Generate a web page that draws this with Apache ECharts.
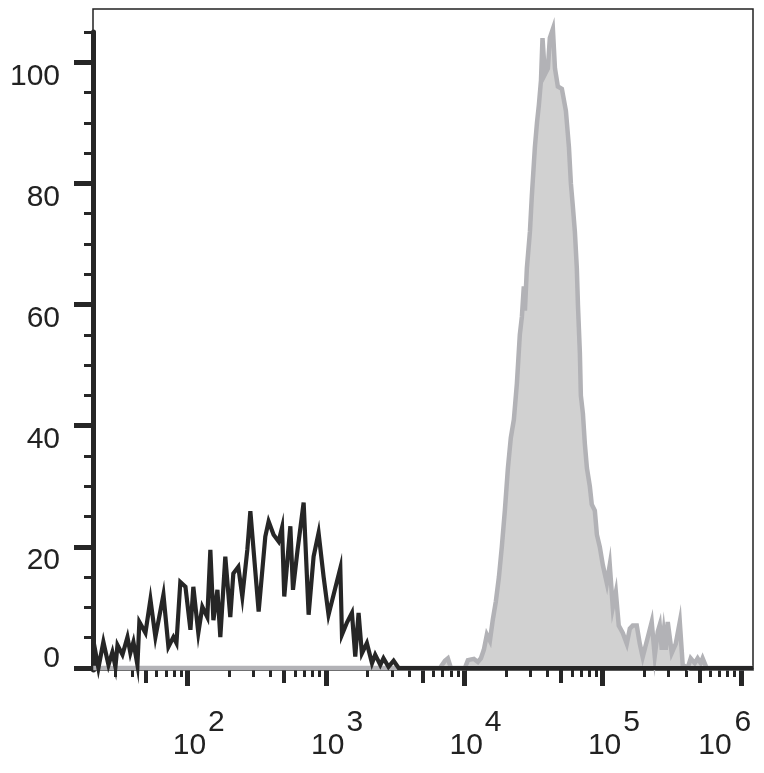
<!DOCTYPE html>
<html>
<head>
<meta charset="utf-8">
<script src="https://cdn.jsdelivr.net/npm/echarts@6/dist/echarts.min.js"></script>
<style>
html,body{margin:0;padding:0;background:#fff;}
#chart{width:764px;height:773px;}
</style>
</head>
<body>
<div id="chart"></div>
<script>
// ---- data (x positions as log10 of intensity, y = cell count) ----
const blackLog = [1.32,1.357,1.393,1.430,1.458,1.480,1.495,1.531,1.567,1.588,1.610,1.639,1.653,1.697,1.733,1.769,1.827,1.863,1.899,1.921,1.949,1.986,2.022,2.043,2.079,2.108,2.144,2.166,2.188,2.217,2.238,2.274,2.310,2.332,2.368,2.397,2.433,2.455,2.515,2.563,2.587,2.623,2.659,2.684,2.700,2.744,2.763,2.796,2.840,2.876,2.912,2.948,2.984,3.020,3.105,3.117,3.153,3.189,3.213,3.237,3.261,3.297,3.334,3.357,3.394,3.417,3.453,3.490,3.526,6.087];
const blackCount = [4.6,0,4.3,0.5,2.6,0.2,3.8,2.2,5.1,2.5,4.3,0.5,7.6,5.8,11.3,5.1,12.1,3.5,5.1,4.1,14.2,13.4,6.3,13.4,5.8,10.1,8.4,19.5,7.9,12.9,5.1,18.4,8.4,15.6,16.7,11.8,19.5,25.9,9.3,21.7,24.2,22.0,20.9,23.2,11.8,23.4,12.9,19.5,27.3,8.8,18.4,22.3,15.1,8.8,16.5,5.5,7.5,9.1,1.9,9.1,2.4,4.1,0.8,2.2,0.5,1.6,0.2,1.2,0,0];

const grayLog = [1.32,3.825,3.861,3.882,3.904,4.005,4.027,4.070,4.099,4.121,4.142,4.164,4.186,4.207,4.229,4.251,4.272,4.294,4.316,4.337,4.359,4.381,4.402,4.417,4.431,4.439,4.453,4.475,4.489,4.511,4.526,4.540,4.555,4.566,4.583,4.605,4.619,4.641,4.656,4.677,4.706,4.735,4.757,4.771,4.786,4.800,4.814,4.822,4.836,4.843,4.858,4.872,4.887,4.908,4.922,4.944,4.959,4.980,5.002,5.031,5.052,5.074,5.096,5.117,5.146,5.175,5.197,5.218,5.247,5.269,5.290,5.326,5.355,5.377,5.399,5.413,5.428,5.442,5.457,5.471,5.500,5.529,5.558,5.579,5.615,5.637,5.666,5.687,5.709,5.723,5.752,6.087];
const grayCount = [0,0,1.2,1.6,0,0,1.3,1.5,1.0,1.6,3,5.5,4.5,8,11,15,20,26,33,38,41,47,55,58,63,59,66,72,78,86,90,93,97,104,98,99,104,105.5,99,96,95.6,92,86,80,76,72,66,60,52,45,42,37,33,30,27,26,22,20,17,14,17,10,12.5,7,5.8,4,6.5,7,7,4,1.8,5,7.6,2,6,7.1,3,6,3,7.6,2.5,4,7.6,0.5,0,1.6,0.8,1.6,0.8,1.6,0,0];

// ---- axis ticks (intensity values, placed on a log10 axis) ----
const xMajorTicks = [100, 1000, 10000, 100000, 1000000];
const xMidTicks = [50, 500, 5000, 50000, 500000];
const xMinorTicks = [20,30,40,60,70,80,90,200,300,400,600,700,800,900,2000,3000,4000,6000,7000,8000,9000,20000,30000,40000,60000,70000,80000,90000,200000,300000,400000,600000,700000,800000,900000];
const yMajorTicks = [0, 20, 40, 60, 80, 100];
const yMinorTicks = [5,10,15,25,30,35,45,50,55,65,70,75,85,90,95,105];

const xMinLog = 1.318, xMaxLog = 6.087;
const yMin = -0.33, yMax = 105;

const toPairs = (ls, cs) => ls.map((l, i) => [l, cs[i]]);
const lg = (arr) => arr.map(v => Math.log10(v));

const FONT = 'Liberation Sans, Arial, sans-serif';
const TXT = '#222';
const INK = '#262626';
const fs = 30;

const chart = echarts.init(document.getElementById('chart'), null, {renderer: 'canvas'});

const baseX = {gridIndex: 0, type: 'value', min: xMinLog, max: xMaxLog, position: 'bottom',
  splitLine: {show: false}, axisLine: {show: false}, axisTick: {show: false}, axisLabel: {show: false}};
const txt = {fontSize: fs, fontFamily: FONT, color: TXT, lineHeight: 30};

const option = {
  animation: false,
  backgroundColor: '#fff',
  grid: [
    {left: 93, right: 11, top: 32, bottom: 103, show: false, outerBoundsMode: 'none', containLabel: false},
    {left: 93, right: 11, top: 9, bottom: 103, show: true, borderColor: '#222', borderWidth: 1.5,
     backgroundColor: 'transparent', outerBoundsMode: 'none', containLabel: false}
  ],
  xAxis: [
    // major ticks + "10" base of the labels
    Object.assign({}, baseX, {
      axisLine: {show: true, lineStyle: {color: INK, width: 1.2}},
      axisTick: {show: true, customValues: lg(xMajorTicks), length: 18, lineStyle: {color: INK, width: 5}},
      axisLabel: {
        show: true, customValues: lg(xMajorTicks), margin: 61, hideOverlap: false,
        formatter: function (v) { return Math.round(v) === 6 ? '{c|10}' : '{b|10}'; },
        rich: {
          b: Object.assign({}, txt, {padding: [0, 0, 0, 4]}),
          c: Object.assign({}, txt, {padding: [0, 52, 0, 0]})
        }
      }
    }),
    // exponents
    Object.assign({}, baseX, {
      axisLabel: {
        show: true, customValues: lg(xMajorTicks), margin: 38, align: 'center', hideOverlap: false,
        formatter: function (v) { const e = Math.round(v); return e === 6 ? '{f|' + e + '}' : '{e|' + e + '}'; },
        rich: {
          e: Object.assign({}, txt, {padding: [0, 0, 0, 58]}),
          f: Object.assign({}, txt, {padding: [0, 0, 0, 4]})
        }
      }
    }),
    Object.assign({}, baseX, {
      axisTick: {show: true, customValues: lg(xMidTicks), length: 13, lineStyle: {color: INK, width: 4}}
    }),
    Object.assign({}, baseX, {
      axisTick: {show: true, customValues: lg(xMinorTicks).filter(v => v >= xMinLog), length: 7, lineStyle: {color: INK, width: 3}}
    }),
    {gridIndex: 1, type: 'value', show: false, min: 0, max: 1}
  ],
  yAxis: [
    {
      gridIndex: 0, type: 'value', min: yMin, max: yMax, position: 'left',
      splitLine: {show: false},
      axisLine: {show: true, lineStyle: {color: INK, width: 5}},
      axisTick: {show: true, customValues: yMajorTicks, length: 19, lineStyle: {color: INK, width: 5}},
      axisLabel: {
        show: true, customValues: yMajorTicks, margin: 33, hideOverlap: false,
        formatter: function (v) { return v === 0 ? '{z|0}' : '{n|' + v + '}'; },
        rich: {
          z: Object.assign({}, txt, {padding: [0, 0, 18, 0]}),
          n: Object.assign({}, txt, {padding: [28, 0, 0, 0]})
        }
      }
    },
    {
      gridIndex: 0, type: 'value', min: yMin, max: yMax, position: 'left',
      splitLine: {show: false}, axisLine: {show: false},
      axisTick: {show: true, customValues: yMinorTicks, length: 9, lineStyle: {color: INK, width: 3}},
      axisLabel: {show: false}
    },
    {gridIndex: 1, type: 'value', show: false, min: 0, max: 1}
  ],
  series: [
    {
      name: 'stained', type: 'line', xAxisIndex: 0, yAxisIndex: 0,
      data: toPairs(grayLog, grayCount),
      showSymbol: false, symbol: 'none', clip: false, z: 2,
      lineStyle: {color: '#b2b2b6', width: 4.5, join: 'miter'},
      areaStyle: {color: '#d1d1d1', opacity: 1}
    },
    {
      name: 'control', type: 'line', xAxisIndex: 0, yAxisIndex: 0,
      data: toPairs(blackLog, blackCount),
      showSymbol: false, symbol: 'none', clip: false, z: 3,
      lineStyle: {color: '#262626', width: 4.2, join: 'miter'}
    }
  ]
};
chart.setOption(option);
</script>
</body>
</html>
